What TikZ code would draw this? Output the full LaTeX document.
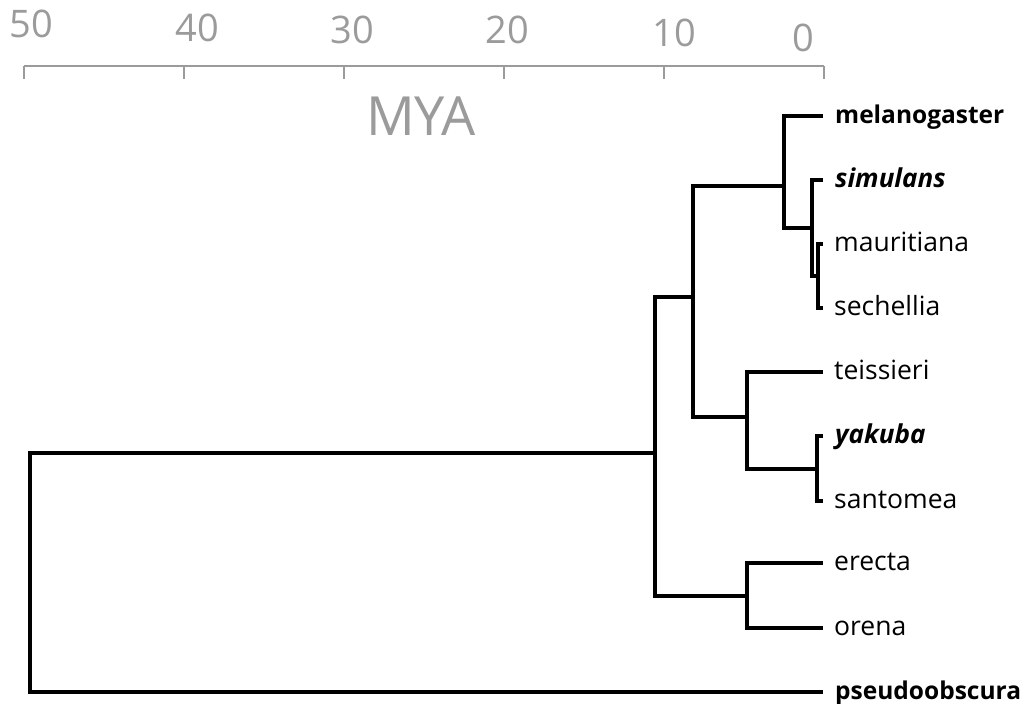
\documentclass[tikz,border=0pt]{standalone}
\usepackage{fontspec}
\setmainfont{Open Sans}
\usepackage{tikz}
\usetikzlibrary{positioning, calc}
\definecolor{axisgray}{RGB}{155,155,155}
\tikzstyle{branch} = [line width=3.4pt, line join=miter, black]
\tikzstyle{axis} = [line width=1.8pt, color=axisgray]
\tikzstyle{ticklabel} = [text=axisgray, inner sep=0pt, font=\fontsize{38}{40}\selectfont]
\tikzstyle{leaf} = [anchor=base west, inner sep=0pt, font=\fontsize{26.5}{28}\selectfont]
\tikzstyle{boldleaf} = [leaf, font=\fontsize{24.5}{26}\selectfont\bfseries]
\tikzstyle{bileaf} = [leaf, font=\fontsize{26}{28}\selectfont\bfseries\itshape]

\begin{document}
\begin{tikzpicture}[x=1pt, y=-1pt]
  \useasboundingbox (0,0) rectangle (1026,704);
  % time axis
  \draw[axis] (24,66) -- (824,66);
  \foreach \t/\lx/\ly in {50/31/24, 40/197/28, 30/352/30, 20/507/30, 10/674/33, 0/803/38}{
    \draw[axis] ({824-16*\t},66) -- ++(0,13);
    \node[ticklabel] (tick\t) at (\lx,\ly) {\t};
  }
  \node[text=axisgray, inner sep=0pt, font=\fontsize{54}{56}\selectfont] (mya) at (421,116) {MYA};
  % tips
  \foreach \name/\y in {mel/116, sim/180, mau/244, sec/308, tei/372, yak/436, san/501, ere/563, ore/628, pse/692}
    \coordinate (t-\name) at (823,\y);
  \node[boldleaf] (mel) at ($(t-mel)+(12,7)$) {melanogaster};
  \node[bileaf] (sim) at ($(t-sim)+(12,7)$) {simulans};
  \node[leaf] (mau) at ($(t-mau)+(11,7)$) {mauritiana};
  \node[leaf] (sec) at ($(t-sec)+(11,7)$) {sechellia};
  \node[leaf] (tei) at ($(t-tei)+(11,7)$) {teissieri};
  \node[bileaf] (yak) at ($(t-yak)+(12,7)$) {yakuba};
  \node[leaf] (san) at ($(t-san)+(11,7)$) {santomea};
  \node[leaf] (ere) at ($(t-ere)+(11,7)$) {erecta};
  \node[leaf] (ore) at ($(t-ore)+(11,7)$) {orena};
  \node[boldleaf] (pse) at ($(t-pse)+(12,7)$) {pseudoobscura};
  % inner nodes
  \coordinate (ms) at (818,276);
  \coordinate (sms) at (812,228);
  \coordinate (msms) at (784,186);
  \coordinate (ys) at (817,469);
  \coordinate (tys) at (747,417);
  \coordinate (melgrp) at (693,297);
  \coordinate (eo) at (747,596);
  \coordinate (core) at (655,453);
  \coordinate (root) at (30,572);
  % branches
  \draw[branch] (t-mau) -| (ms) |- (t-sec);
  \draw[branch] (t-sim) -| (sms) |- (ms);
  \draw[branch] (t-mel) -| (msms) |- (sms);
  \draw[branch] (t-yak) -| (ys) |- (t-san);
  \draw[branch] (t-tei) -| (tys) |- (ys);
  \draw[branch] (msms) -| (melgrp) |- (tys);
  \draw[branch] (t-ere) -| (eo) |- (t-ore);
  \draw[branch] (melgrp) -| (core) |- (eo);
  \draw[branch] (core) -| (root) |- (t-pse);
\end{tikzpicture}
\end{document}
